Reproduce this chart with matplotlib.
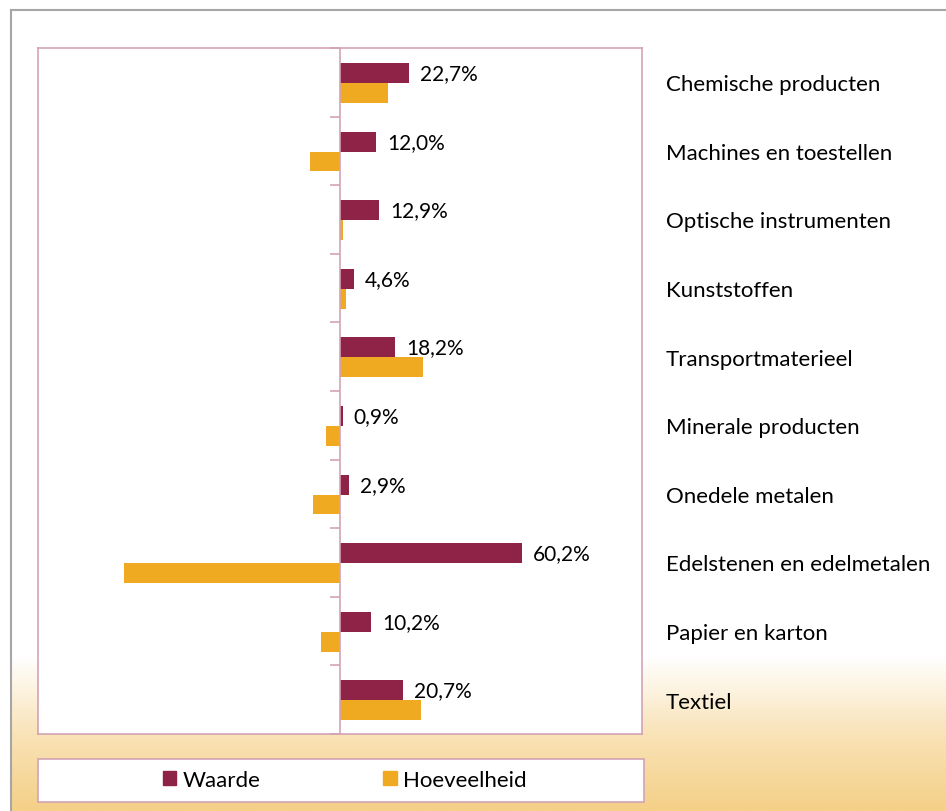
import matplotlib.pyplot as plt
import matplotlib.patches as mpatches
from matplotlib.colors import LinearSegmentedColormap
from matplotlib.lines import Line2D
import numpy as np

# data (percent change), top to bottom
categories = ['Chemische producten', 'Machines en toestellen', 'Optische instrumenten',
              'Kunststoffen', 'Transportmaterieel', 'Minerale producten',
              'Onedele metalen', 'Edelstenen en edelmetalen', 'Papier en karton', 'Textiel']
waarde = [22.7, 12.0, 12.9, 4.6, 18.2, 0.9, 2.9, 60.2, 10.2, 20.7]
hoeveelheid = [15.9, -9.9, 1.0, 2.0, 27.5, -4.6, -8.9, -71.5, -6.3, 26.8]
labels = ['22,7%', '12,0%', '12,9%', '4,6%', '18,2%', '0,9%', '2,9%', '60,2%', '10,2%', '20,7%']

c_waarde = '#8E2247'
c_hoev = '#EFAA22'
c_frame = '#D3A3B6'

plt.rcParams['font.family'] = ['Lato', 'DejaVu Sans']

W, H = 946, 812
fig = plt.figure(figsize=(W / 100, H / 100), dpi=100)

# background gradient (white -> light orange at the bottom)
bg = fig.add_axes([0, 0, 1, 1], zorder=-5)
bg.set_axis_off()
yy = np.linspace(0, 1, 400)
t = np.clip((yy - 0.81) / (1 - 0.81), 0, 1)
grad = np.tile(t[:, None], (1, 2))
cmap = LinearSegmentedColormap.from_list('bgr', ['#FFFFFF', '#F9E3B8', '#F4D088'])
bg.imshow(grad, aspect='auto', cmap=cmap, extent=[0, 1, 1, 0], vmin=0, vmax=1)
bg.add_patch(mpatches.Rectangle((0, 0), 10 / W, 1, color='white', transform=bg.transAxes))
bg.add_patch(mpatches.Rectangle((0, 1 - 11 / H), 1, 11 / H, color='white', transform=bg.transAxes))
bg.add_line(Line2D([10.5 / W, 10.5 / W], [0, 1 - 11 / H], color='#A6A6A6', lw=1.5, transform=bg.transAxes))
bg.add_line(Line2D([10.5 / W, 1], [1 - 11 / H, 1 - 11 / H], color='#A6A6A6', lw=1.5, transform=bg.transAxes))
bg.set_xlim(0, 1)
bg.set_ylim(1, 0)

# plot area
x0, x1, y0, y1 = 38, 642, 49, 735
ax = fig.add_axes([x0 / W, 1 - y1 / H, (x1 - x0) / W, (y1 - y0) / H])
ax.set_facecolor('white')

n = len(categories)
pos = np.arange(n)
bh = 0.29
off = 0.01
ax.barh(pos - bh / 2 + off, waarde, height=bh, color=c_waarde, zorder=3)
ax.barh(pos + bh / 2 + off, hoeveelheid, height=bh, color=c_hoev, zorder=3)

for p, v, lab in zip(pos, waarde, labels):
    ax.annotate(lab, (v, p - bh / 2 + off), xytext=(8, 0), textcoords='offset points',
                va='center', ha='left', fontsize=15, color='black')

ax.set_xlim(-100, 100)
ax.set_ylim(n - 0.5, -0.5)
ax.axvline(0, color=c_frame, lw=1.2, zorder=4)
ax.hlines(np.arange(n + 1) - 0.5, -3.3, 0, color=c_frame, lw=1.2, zorder=4, clip_on=False)

ax.set_xticks([])
ax.set_yticks(pos)
ax.set_yticklabels(categories, fontsize=16)
ax.yaxis.tick_right()
ax.tick_params(axis='y', length=0, pad=17)
for s in ax.spines.values():
    s.set_color(c_frame)
    s.set_linewidth(1.2)

# legend box
lx0, lx1, ly0, ly1 = 38, 644, 760, 803
fig.patches.append(mpatches.Rectangle((lx0 / W, 1 - ly1 / H), (lx1 - lx0) / W, (ly1 - ly0) / H,
                                      facecolor='white', edgecolor=c_frame, lw=1.2,
                                      transform=fig.transFigure, zorder=1))
handles = [mpatches.Patch(color=c_waarde, label='Waarde'),
           mpatches.Patch(color=c_hoev, label='Hoeveelheid')]
fig.legend(handles=handles, loc='center', bbox_to_anchor=(345 / W, 1 - 781 / H), ncol=2,
           frameon=False, fontsize=16, handlelength=0.6, handleheight=0.6,
           handletextpad=0.3, columnspacing=5.5)

fig.savefig('out.png', dpi=100)
